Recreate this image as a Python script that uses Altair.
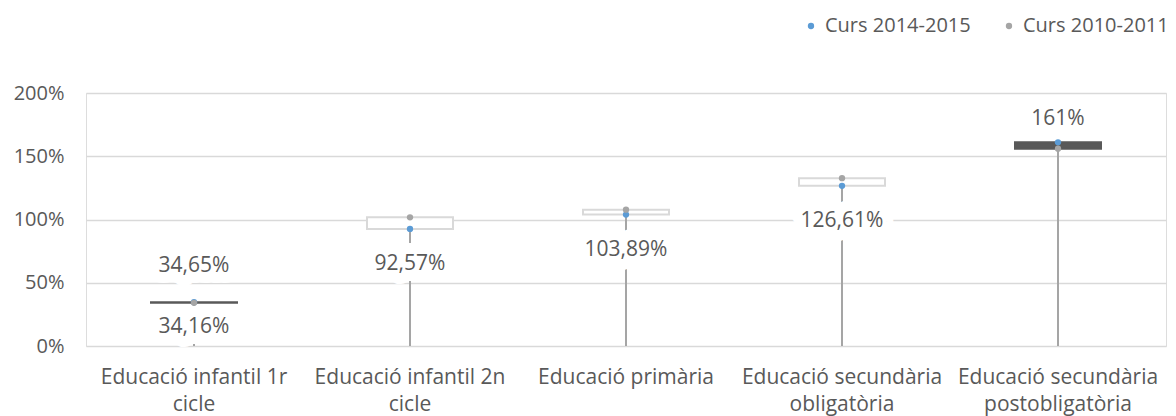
import altair as alt
import pandas as pd

# ---- data ----
categories = [
    "Educació infantil 1r cicle",
    "Educació infantil 2n cicle",
    "Educació primària",
    "Educació secundària obligatòria",
    "Educació secundària postobligatòria",
]
curs_2014 = [34.65, 92.57, 103.89, 126.61, 161.0]
curs_2010 = [34.16, 101.7, 107.8, 132.7, 156.0]
labels_2014 = ["34,65%", "92,57%", "103,89%", "126,61%", "161%"]
labels_2010 = ["34,16%", "", "", "", ""]
series_names = ["Curs 2014-2015", "Curs 2010-2011"]
y_ticks = [0, 50, 100, 150, 200]

FONT = "Open Sans"
TEXT = "#595959"
GRID = "#d9d9d9"
BLUE = "#5b9bd5"
GRAY = "#a5a5a5"
DARK = "#595959"
FS = 21

wide = pd.DataFrame({
    "cat": categories,
    "v2014": curs_2014,
    "v2010": curs_2010,
    "l2014": labels_2014,
    "l2010": labels_2010,
})
long = pd.DataFrame({
    "cat": categories * 2,
    "serie": [series_names[0]] * len(categories) + [series_names[1]] * len(categories),
    "valor": curs_2014 + curs_2010,
    "ordre": [i * 2 for i in range(len(categories))] + [i * 2 + 1 for i in range(len(categories))],
}).sort_values("ordre")

x_enc = alt.X(
    "cat:N",
    sort=categories,
    scale=alt.Scale(paddingInner=0, paddingOuter=0),
    axis=alt.Axis(
        title=None, labelAngle=0, ticks=False, domain=False, grid=False,
        labelFont=FONT, labelFontSize=FS, labelColor=TEXT, labelPadding=20,
        labelLineHeight=27, labelLimit=300,
        labelExpr="length(datum.label) > 18 ? [substring(datum.label, 0, lastindexof(datum.label, ' ')), substring(datum.label, lastindexof(datum.label, ' ') + 1)] : datum.label",
    ),
)
y_scale = alt.Scale(domain=[0, 200], nice=False, zero=True)
y_axis = alt.Axis(
    title=None, values=y_ticks, ticks=False, domain=False, grid=True,
    gridColor=GRID, gridWidth=1.3, labelFont=FONT, labelFontSize=20,
    labelColor=TEXT, labelPadding=22, labelExpr="datum.value + '%'",
)

base = alt.Chart(wide).transform_calculate(
    lo="min(datum.v2014, datum.v2010)",
    hi="max(datum.v2014, datum.v2010)",
)

rules = base.mark_rule(color=GRAY, strokeWidth=2).encode(
    x=x_enc,
    y=alt.Y("lo:Q", scale=y_scale, axis=y_axis),
    y2=alt.datum(0),
)

up = "datum.v2014 > datum.v2010"
boxes = base.mark_bar(size=86, strokeWidth=2).encode(
    x=alt.X("cat:N", sort=categories),
    y=alt.Y("lo:Q", scale=y_scale),
    y2="hi:Q",
    fill=alt.condition(up, alt.value(DARK), alt.value("white")),
    stroke=alt.condition(up, alt.value(DARK), alt.value(GRID)),
)


def label_pair(val_field, lab_field, cats, dy):
    src = alt.Chart(wide).transform_filter(
        alt.FieldOneOfPredicate(field="cat", oneOf=cats)
    )
    enc = dict(
        x=alt.X("cat:N", sort=categories),
        y=alt.Y(f"{val_field}:Q", scale=y_scale),
        text=f"{lab_field}:N",
    )
    halo = src.mark_text(
        dy=dy, font=FONT, fontSize=FS, fill="white", stroke="white",
        strokeWidth=22, strokeJoin="round", baseline="middle",
    ).encode(**enc)
    txt = src.mark_text(
        dy=dy, font=FONT, fontSize=FS, color=TEXT, baseline="middle",
    ).encode(**enc)
    return halo, txt


h1, t1 = label_pair("v2014", "l2014", categories[1:4], 35)
h2, t2 = label_pair("v2014", "l2014", categories[0:1], -36)
h3, t3 = label_pair("v2014", "l2014", categories[4:5], -23)
h4, t4 = label_pair("v2010", "l2010", categories[0:1], 24)

points = alt.Chart(long).mark_point(filled=True, opacity=1, size=40, shape="circle").encode(
    x=alt.X("cat:N", sort=categories),
    y=alt.Y("valor:Q", scale=y_scale),
    color=alt.Color(
        "serie:N",
        scale=alt.Scale(domain=series_names, range=[BLUE, GRAY]),
        legend=alt.Legend(
            title=None, orient="none", legendX=715, legendY=-77,
            direction="horizontal", symbolType="circle", symbolSize=40,
            labelFont=FONT, labelFontSize=20, labelColor=TEXT,
            columnPadding=28, labelOffset=4, padding=0, symbolStrokeWidth=0,
            labelLimit=300,
        ),
    ),
    order=alt.Order("ordre:Q"),
)

chart = alt.layer(
    rules, h1, h2, h3, h4, t1, t2, t3, t4, boxes, points
).properties(
    width=1080,
    height=253,
    autosize=alt.AutoSizeParams(type="none"),
    padding={"left": 78, "top": 85, "right": 2, "bottom": 70},
).configure_view(stroke=None).configure(background="white")

chart.save("out.html", embed_options={"renderer": "svg", "actions": False})
